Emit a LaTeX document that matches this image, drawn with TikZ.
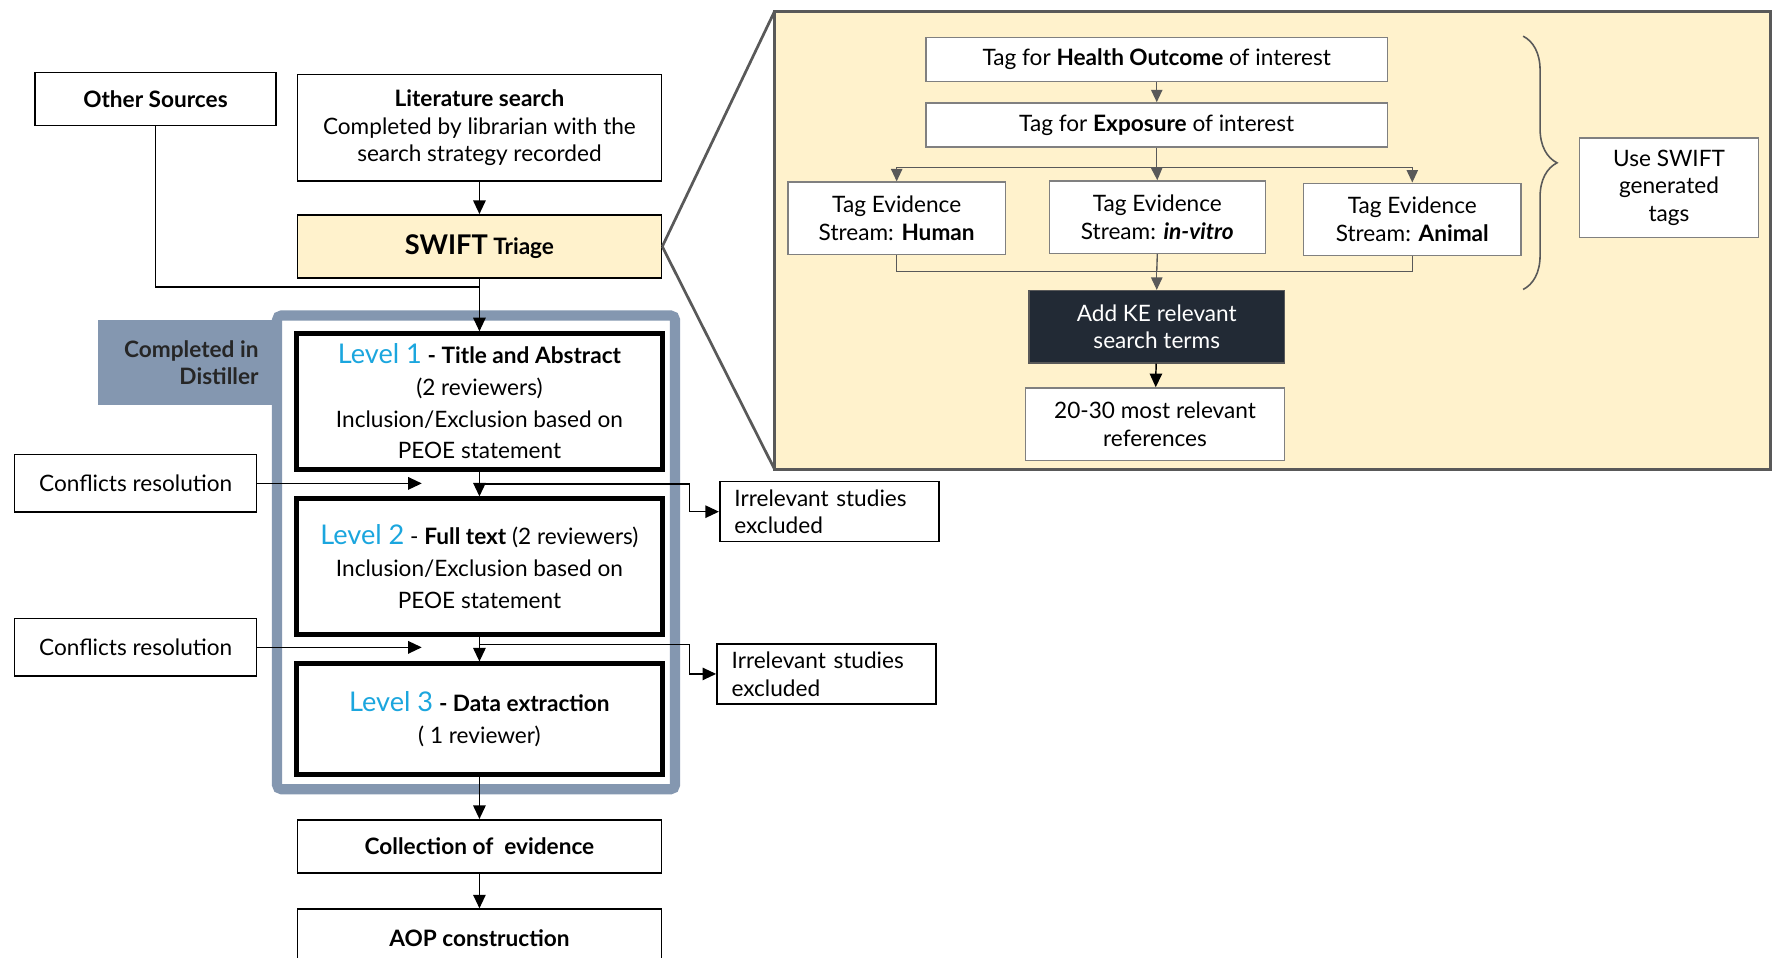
\documentclass[tikz,border=0pt]{standalone}
\usepackage{fontspec}
\setmainfont{Lato}
\usetikzlibrary{arrows.meta,calc,decorations.pathreplacing}
\definecolor{frameblue}{HTML}{8497B0}
\definecolor{paleyellow}{HTML}{FFF2CC}
\definecolor{lvlblue}{HTML}{1BA6DE}
\definecolor{darknavy}{HTML}{222A35}
\definecolor{panelgray}{HTML}{595959}
\definecolor{boxgray}{HTML}{808080}
\tikzset{
 base/.style={inner sep=0pt, align=center, font=\fontsize{10}{12.25}\selectfont},
 plainbox/.style={base, draw=black, line width=0.7pt, fill=white},
 lvlbox/.style={base, draw=black, line width=2pt, fill=white, font=\fontsize{10}{14}\selectfont},
 tagbox/.style={base, draw=boxgray, line width=0.6pt, fill=white},
 arr/.style={draw=black, line width=0.65pt, -{Triangle[length=6pt,width=5.5pt]}},
 plainline/.style={draw=black, line width=0.6pt},
 garr/.style={draw=panelgray, line width=0.6pt, -{Triangle[length=5.5pt,width=5pt]}},
 gline/.style={draw=panelgray, line width=0.6pt},
 irrbox/.style={base, draw=black, line width=0.7pt, fill=white, align=left, text width=84pt, inner xsep=6.5pt, minimum height=26.5pt},
}
\newcommand{\lvl}[1]{{\color{lvlblue}\fontsize{12}{14}\selectfont #1}}
\begin{document}
\begin{tikzpicture}[x=0.5pt,y=-0.5pt]
\useasboundingbox (0,0) rectangle (1568,847);
\fill[white] (0,0) rectangle (1568,847);

% right zoom panel
\draw[fill=paleyellow, draw=panelgray, line width=1.2pt] (685,10) rectangle (1566,415);

% left column
\node[plainbox, minimum width=106.5pt, minimum height=23.5pt] (other) at (137.5,87.5) {\bfseries Other Sources};
\node[plainbox, minimum width=161pt, minimum height=47pt] (lit) at (424,113) {\textbf{Literature search}\\Completed by librarian with the\\search strategy recorded};
\node[plainbox, fill=paleyellow, minimum width=161pt, minimum height=28pt] (swift) at (424,218) {\textbf{{\fontsize{12}{14}\selectfont SWIFT} Triage}};

\draw[panelgray, line width=1.2pt] (swift.east) -- (685,10);
\draw[panelgray, line width=1.2pt] (swift.east) -- (685,415);

% distiller
\fill[frameblue] (87,283) rectangle (244,358);
\draw[frameblue, line width=4.5pt, rounded corners=2pt] (245,279) rectangle (597,698);
\node[base, font=\fontsize{10}{12}\selectfont\bfseries, align=right, anchor=east, text=black!85] (dist) at (229,321) {Completed in\\Distiller};

\node[lvlbox, minimum width=162pt, minimum height=60pt] (L1) at (424,355) {\lvl{Level 1} \textbf{- Title and Abstract}\\(2 reviewers)\\Inclusion/Exclusion based on\\PEOE statement};
\node[lvlbox, minimum width=162pt, minimum height=60pt] (L2) at (424,501) {\lvl{Level 2} - \textbf{Full text} (2 reviewers)\\Inclusion/Exclusion based on\\PEOE statement};
\node[lvlbox, minimum width=162pt, minimum height=49pt] (L3) at (424,636) {\lvl{Level 3} \textbf{- Data extraction}\\( 1 reviewer)};

\node[plainbox, minimum width=107pt, minimum height=25.5pt] (conf1) at (120,427.5) {Conflicts resolution};
\node[plainbox, minimum width=107pt, minimum height=25.5pt] (conf2) at (120,572.5) {Conflicts resolution};
\node[irrbox] (irr1) at (733.5,452.5) {Irrelevant studies\\excluded};
\node[irrbox] (irr2) at (731,596) {Irrelevant studies\\excluded};

\node[plainbox, minimum width=161pt, minimum height=23.5pt] (coll) at (424,748.5) {\bfseries Collection of\ \ evidence};
\node[plainbox, minimum width=161pt, minimum height=26pt] (aop) at (424,830) {\bfseries AOP construction};

% left connectors
\draw[arr] (lit) -- (swift);
\draw[arr] (swift) -- (L1);
\draw[plainline] (other.south) |- ($(swift.south)+(0,7)$);
\draw[arr] (L1) -- (L2);
\draw[arr] (L2) -- (L3);
\draw[arr] (L3) -- (coll);
\draw[arr] (coll) -- (aop);
\coordinate (c1) at (373,427.5);
\coordinate (c2) at (373,572.5);
\draw[arr] (conf1.east) -- (c1);
\draw[arr] (conf2.east) -- (c2);
\coordinate (b1) at (424,428);
\coordinate (b2) at (424,570);
\draw[arr] (b1) -- (610,428) |- (irr1.west);
\draw[arr] (b2) -- (610,570) |- (irr2.west);

% right panel content
\node[tagbox, minimum width=204pt, minimum height=19.5pt] (ho) at (1023,52.5) {Tag for \textbf{Health Outcome} of interest};
\node[tagbox, minimum width=204pt, minimum height=19.5pt] (ex) at (1023,110.5) {Tag for \textbf{Exposure} of interest};
\node[tagbox, minimum width=96pt, minimum height=32pt] (hum) at (793,193) {Tag Evidence\\Stream: \textbf{Human}};
\node[tagbox, minimum width=95.5pt, minimum height=32pt] (inv) at (1023.5,192) {Tag Evidence\\Stream: \textbf{\textit{in-vitro}}};
\node[tagbox, minimum width=96pt, minimum height=32pt] (ani) at (1249,194) {Tag Evidence\\Stream: \textbf{Animal}};
\node[base, fill=darknavy, draw=panelgray, line width=0.6pt, text=white, minimum width=113pt, minimum height=32pt] (ke) at (1023,289) {Add KE relevant\\search terms};
\node[tagbox, minimum width=114.5pt, minimum height=32pt] (ref) at (1021.5,375) {20-30 most relevant\\references};
\node[tagbox, minimum width=79pt, minimum height=44pt] (use) at (1476,166) {Use SWIFT\\generated\\tags};

\coordinate (split) at (1023,148);
\coordinate (merge) at (1023,240);
\draw[garr] (ho) -- (ex);
\draw[gline] (ex.south) -- (split);
\draw[garr] (split) -| (hum.north);
\draw[garr] (split) -| (ani.north);
\draw[garr] (split) -- (inv.north);
\draw[gline] (hum.south) |- (merge);
\draw[gline] (ani.south) |- (merge);
\draw[gline] (inv.south) -- (merge);
\draw[garr] (merge) -- (ke.north);
\draw[arr] (ke) -- (ref);

\coordinate (brtop) at (1347,32);
\coordinate (brbot) at (1347,256);
\draw[panelgray, line width=0.7pt, decorate, decoration={brace, amplitude=15pt, aspect=0.5}] (brtop) -- (brbot);
\end{tikzpicture}
\end{document}
